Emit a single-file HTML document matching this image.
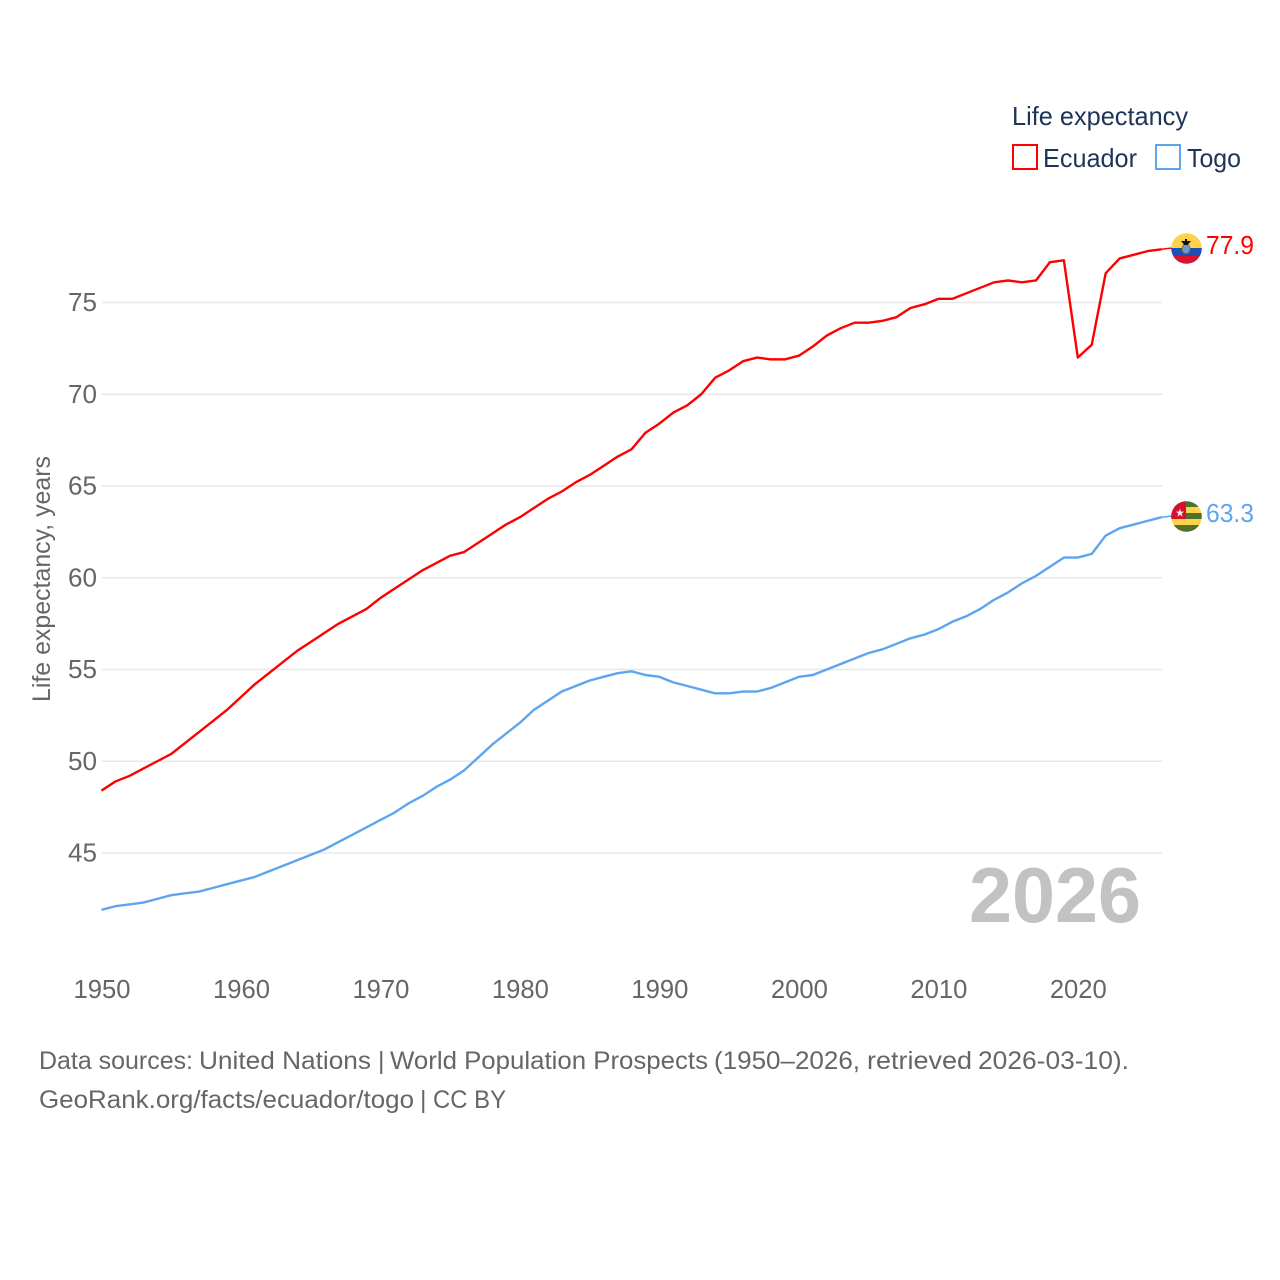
<!DOCTYPE html>
<html lang="en">
<head>
<meta charset="utf-8">
<title>Life expectancy: Ecuador and Togo</title>
<style>
html,body{margin:0;padding:0;background:#fff;}
svg{display:block;}
text{font-family:"Liberation Sans",sans-serif;}
</style>
</head>
<body>
<svg id="chart" xmlns="http://www.w3.org/2000/svg" width="1280" height="1280" viewBox="0 0 1280 1280">
  <rect width="1280" height="1280" fill="#ffffff"/>
  <g id="grid"></g>
  <g id="yticks"></g>
  <g id="xticks"></g>
  <text transform="translate(50,702) rotate(-90)" font-size="25" fill="#666666" textLength="246" lengthAdjust="spacingAndGlyphs">Life expectancy, years</text>
  <text x="969" y="922" font-size="78" font-weight="bold" fill="#c2c2c2" textLength="172" lengthAdjust="spacingAndGlyphs">2026</text>
  <g id="series"></g>

  <g>
    <text x="1012" y="125" font-size="26" fill="#1d3557" textLength="176" lengthAdjust="spacingAndGlyphs">Life expectancy</text>
    <g>
      <rect x="1013" y="145" width="24" height="24" fill="none" stroke="#ff0000" stroke-width="2"/>
      <text x="1043" y="167" font-size="26" fill="#1d3557" textLength="94" lengthAdjust="spacingAndGlyphs">Ecuador</text>
    </g>
    <g>
      <rect x="1156" y="145" width="24" height="24" fill="none" stroke="#5da5ee" stroke-width="2"/>
      <text x="1187" y="167" font-size="26" fill="#1d3557" textLength="54" lengthAdjust="spacingAndGlyphs">Togo</text>
    </g>
  </g>

  <defs>
    <clipPath id="clip-ec"><circle cx="1186.5" cy="248.5" r="15.3"/></clipPath>
    <clipPath id="clip-tg"><circle cx="1186.5" cy="516.5" r="15.3"/></clipPath>
  </defs>

  <g>
    <g clip-path="url(#clip-ec)">
      <rect x="1171" y="233" width="31" height="15" fill="#fcd34a"/>
      <rect x="1171" y="248" width="31" height="8" fill="#1f4fb5"/>
      <rect x="1171" y="256" width="31" height="8" fill="#d8132f"/>
      <ellipse cx="1186" cy="248.5" rx="3.8" ry="5" fill="#6a9ad8" stroke="#8a7a30" stroke-width="1"/>
      <path d="M1181 241 L1191 241 L1187.5 245 L1184.5 245 Z" fill="#111111"/>
      <rect x="1185" y="239" width="2" height="3" fill="#111111"/>
    </g>
  </g>
  <g>
    <g clip-path="url(#clip-tg)">
      <rect x="1171" y="501" width="31" height="32" fill="#fcd34a"/>
      <rect x="1171" y="501" width="31" height="6" fill="#4f7128"/>
      <rect x="1171" y="513" width="31" height="6" fill="#4f7128"/>
      <rect x="1171" y="525" width="31" height="8" fill="#4f7128"/>
      <rect x="1171" y="501" width="15" height="18" fill="#d8102f"/>
      <polygon points="1180,508.5 1181,511.6 1184.2,511.6 1181.6,513.5 1182.6,516.6 1180,514.7 1177.4,516.6 1178.4,513.5 1175.8,511.6 1179,511.6" fill="#f4f0f0"/>
    </g>
  </g>

  <text id="label-ec" x="1206" y="254" font-size="26" fill="#ff0000" textLength="48" lengthAdjust="spacingAndGlyphs">77.9</text>
  <text id="label-tg" x="1206" y="522" font-size="26" fill="#5da5ee" textLength="48" lengthAdjust="spacingAndGlyphs">63.3</text>

  <text y="1069" font-size="25" fill="#666666" lengthAdjust="spacingAndGlyphs"><tspan x="39" textLength="154" lengthAdjust="spacingAndGlyphs">Data sources:</tspan> <tspan x="199" textLength="172" lengthAdjust="spacingAndGlyphs">United Nations</tspan> <tspan x="378">|</tspan> <tspan x="390" textLength="318" lengthAdjust="spacingAndGlyphs">World Population Prospects</tspan> <tspan x="714" textLength="146" lengthAdjust="spacingAndGlyphs">(1950–2026,</tspan> <tspan x="867" textLength="105" lengthAdjust="spacingAndGlyphs">retrieved</tspan> <tspan x="978" textLength="151" lengthAdjust="spacingAndGlyphs">2026-03-10).</tspan></text>
  <text y="1108" font-size="25" fill="#666666"><tspan x="39" textLength="375" lengthAdjust="spacingAndGlyphs">GeoRank.org/facts/ecuador/togo</tspan> <tspan x="420">|</tspan> <tspan x="433" textLength="73" lengthAdjust="spacingAndGlyphs">CC BY</tspan></text>
</svg>
<script>
const startYear = 1950;
const endYear = 2026;
const yTickValues = [45, 50, 55, 60, 65, 70, 75];
const xTickValues = [1950, 1960, 1970, 1980, 1990, 2000, 2010, 2020];
const ecuadorValues = [48.4,48.9,49.2,49.6,50.0,50.4,51.0,51.6,52.2,52.8,53.5,54.2,54.8,55.4,56.0,56.5,57.0,57.5,57.9,58.3,58.9,59.4,59.9,60.4,60.8,61.2,61.4,61.9,62.4,62.9,63.3,63.8,64.3,64.7,65.2,65.6,66.1,66.6,67.0,67.9,68.4,69.0,69.4,70.0,70.9,71.3,71.8,72.0,71.9,71.9,72.1,72.6,73.2,73.6,73.9,73.9,74.0,74.2,74.7,74.9,75.2,75.2,75.5,75.8,76.1,76.2,76.1,76.2,77.2,77.3,72.0,72.7,76.6,77.4,77.6,77.8,77.9];
const togoValues = [41.9,42.1,42.2,42.3,42.5,42.7,42.8,42.9,43.1,43.3,43.5,43.7,44.0,44.3,44.6,44.9,45.2,45.6,46.0,46.4,46.8,47.2,47.7,48.1,48.6,49.0,49.5,50.2,50.9,51.5,52.1,52.8,53.3,53.8,54.1,54.4,54.6,54.8,54.9,54.7,54.6,54.3,54.1,53.9,53.7,53.7,53.8,53.8,54.0,54.3,54.6,54.7,55.0,55.3,55.6,55.9,56.1,56.4,56.7,56.9,57.2,57.6,57.9,58.3,58.8,59.2,59.7,60.1,60.6,61.1,61.1,61.3,62.3,62.7,62.9,63.1,63.3];

const NS = 'http://www.w3.org/2000/svg';
const xScale = function (year) { return 101.5 + (year - startYear) * (1060 / (endYear - startYear)); };
const yScale = function (v) { return 302.5 + (75 - v) * 18.35; };

const gridG = document.getElementById('grid');
const yG = document.getElementById('yticks');
const xG = document.getElementById('xticks');
const seriesG = document.getElementById('series');

yTickValues.forEach(function (v) {
  const line = document.createElementNS(NS, 'line');
  
  
  line.setAttribute('x1', 102);
  line.setAttribute('x2', 1162);
  line.setAttribute('y1', yScale(v));
  line.setAttribute('y2', yScale(v));
  line.setAttribute('stroke', '#e8e8e8');
  line.setAttribute('stroke-width', 1.4);
  gridG.appendChild(line);

  const t = document.createElementNS(NS, 'text');
  
  
  t.setAttribute('x', 68);
  t.setAttribute('y', yScale(v) + 8.5);
  t.setAttribute('font-size', 26);
  t.setAttribute('fill', '#666666');
  t.setAttribute('textLength', 29);
  t.setAttribute('lengthAdjust', 'spacingAndGlyphs');
  t.textContent = String(v);
  yG.appendChild(t);
});

xTickValues.forEach(function (yr) {
  const t = document.createElementNS(NS, 'text');
  
  
  t.setAttribute('x', xScale(yr) - 28);
  t.setAttribute('y', 998);
  t.setAttribute('font-size', 26);
  t.setAttribute('fill', '#666666');
  t.setAttribute('textLength', 57);
  t.setAttribute('lengthAdjust', 'spacingAndGlyphs');
  t.textContent = String(yr);
  xG.appendChild(t);
});

function drawSeries(values, color, name, flagCenterY) {
  const d = values.map(function (v, i) {
    return (i ? 'L' : 'M') + xScale(startYear + i).toFixed(2) + ' ' + yScale(v).toFixed(2);
  }).join(' ');
  const p = document.createElementNS(NS, 'path');
  
  
  p.setAttribute('d', d);
  p.setAttribute('fill', 'none');
  p.setAttribute('stroke', color);
  p.setAttribute('stroke-width', 2.4);
  p.setAttribute('stroke-linejoin', 'round');
  seriesG.appendChild(p);

  const last = values[values.length - 1];
  const c = document.createElementNS(NS, 'line');
  
  
  c.setAttribute('x1', xScale(endYear));
  c.setAttribute('y1', yScale(last));
  c.setAttribute('x2', 1172);
  c.setAttribute('y2', flagCenterY);
  c.setAttribute('stroke', color);
  c.setAttribute('stroke-width', 1.5);
  seriesG.appendChild(c);
}
drawSeries(ecuadorValues, '#ff0000', 'series-ecuador', 248);
drawSeries(togoValues, '#5da5ee', 'series-togo', 516);
document.getElementById('label-ec').textContent = ecuadorValues[ecuadorValues.length - 1].toFixed(1);
document.getElementById('label-tg').textContent = togoValues[togoValues.length - 1].toFixed(1);
</script>
</body>
</html>
